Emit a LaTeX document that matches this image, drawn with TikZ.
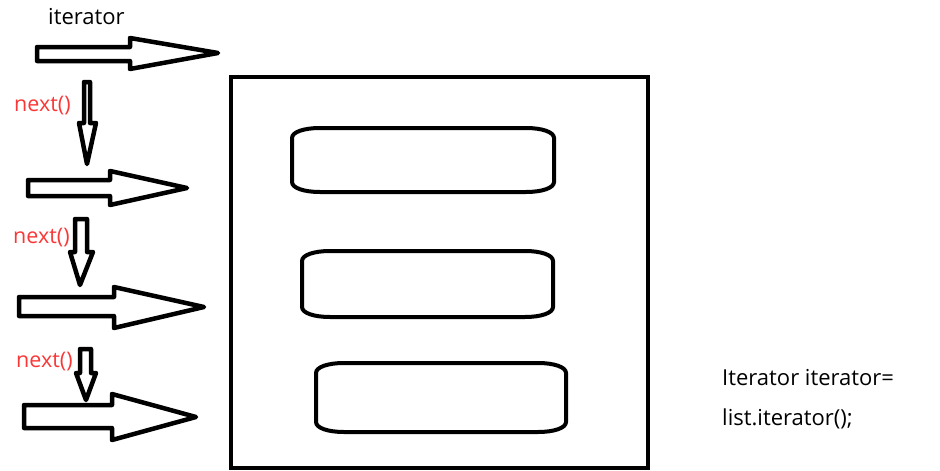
\documentclass[tikz,border=0pt]{standalone}
\usepackage{fontspec}
\setmainfont{Open Sans}
\definecolor{nextred}{RGB}{250,55,55}
\tikzset{
  shapeline/.style={draw=black, line width=4.5pt, line join=round, fill=white},
  boxline/.style={draw=black, line width=4pt},
  pillline/.style={draw=black, line width=4pt},
  lbl/.style={anchor=base west, inner sep=0pt, font=\fontsize{22}{26}\selectfont},
  nextlbl/.style={anchor=base west, inner sep=0pt, text=nextred, font=\fontsize{21.5}{25}\selectfont},
}
\newcommand\rarrow[8]{% xL yT yB xH hT hB tipx tipy
  \draw[shapeline] (#1,#2) -- (#4,#2) -- (#4,#5) -- (#7,#8) -- (#4,#6) -- (#4,#3) -- (#1,#3) -- cycle;}
\newcommand\darrow[8]{% sL sR top hy hL hR tipx tipy
  \draw[shapeline] (#1,#3) -- (#2,#3) -- (#2,#4) -- (#6,#4) -- (#7,#8) -- (#5,#4) -- (#1,#4) -- cycle;}
\newcommand\pillbox[4]{% xL yT xR yB
  \draw[pillline] (#1+28,#2) -- (#3-28,#2)
    .. controls (#3-12,#2) and (#3,#2+4) .. (#3,#2+10)
    -- (#3,#4-10)
    .. controls (#3,#4-4) and (#3-12,#4) .. (#3-28,#4)
    -- (#1+28,#4)
    .. controls (#1+12,#4) and (#1,#4-4) .. (#1,#4-10)
    -- (#1,#2+10)
    .. controls (#1,#2+4) and (#1+12,#2) .. (#1+28,#2) -- cycle;}
\begin{document}
\begin{tikzpicture}[x=1pt,y=-1pt]
\useasboundingbox (0,0) rectangle (940,471);
% container
\draw[boxline] (231,77) rectangle (648,468);
% list elements
\pillbox{292}{128}{554}{192}
\pillbox{302}{251}{553}{317}
\pillbox{316}{363}{566}{432}
% block arrows to the right
\rarrow{37}{47}{61}{130}{38}{69}{218}{53}
\rarrow{28}{180}{196}{110}{171}{205}{187}{188}
\rarrow{19}{297}{316}{114}{287}{328}{204}{307}
\rarrow{24}{405}{428}{112}{394}{440}{196}{417}
% next() arrows
\darrow{84}{90}{82}{123}{79}{96}{87}{164}
\darrow{75}{87}{219}{252}{70}{93}{80}{285}
\darrow{80}{91}{349}{373}{76}{96}{86}{400}
% labels
\node[lbl] (itlabel) at (48,24) {iterator};
\node[nextlbl] (next1) at (14,111) {next()};
\node[nextlbl] (next2) at (13,243) {next()};
\node[nextlbl] (next3) at (16,367) {next()};
\node[lbl] (code1) at (722,385) {Iterator iterator=};
\node[lbl] (code2) at (722,425) {list.iterator();};
\end{tikzpicture}
\end{document}
